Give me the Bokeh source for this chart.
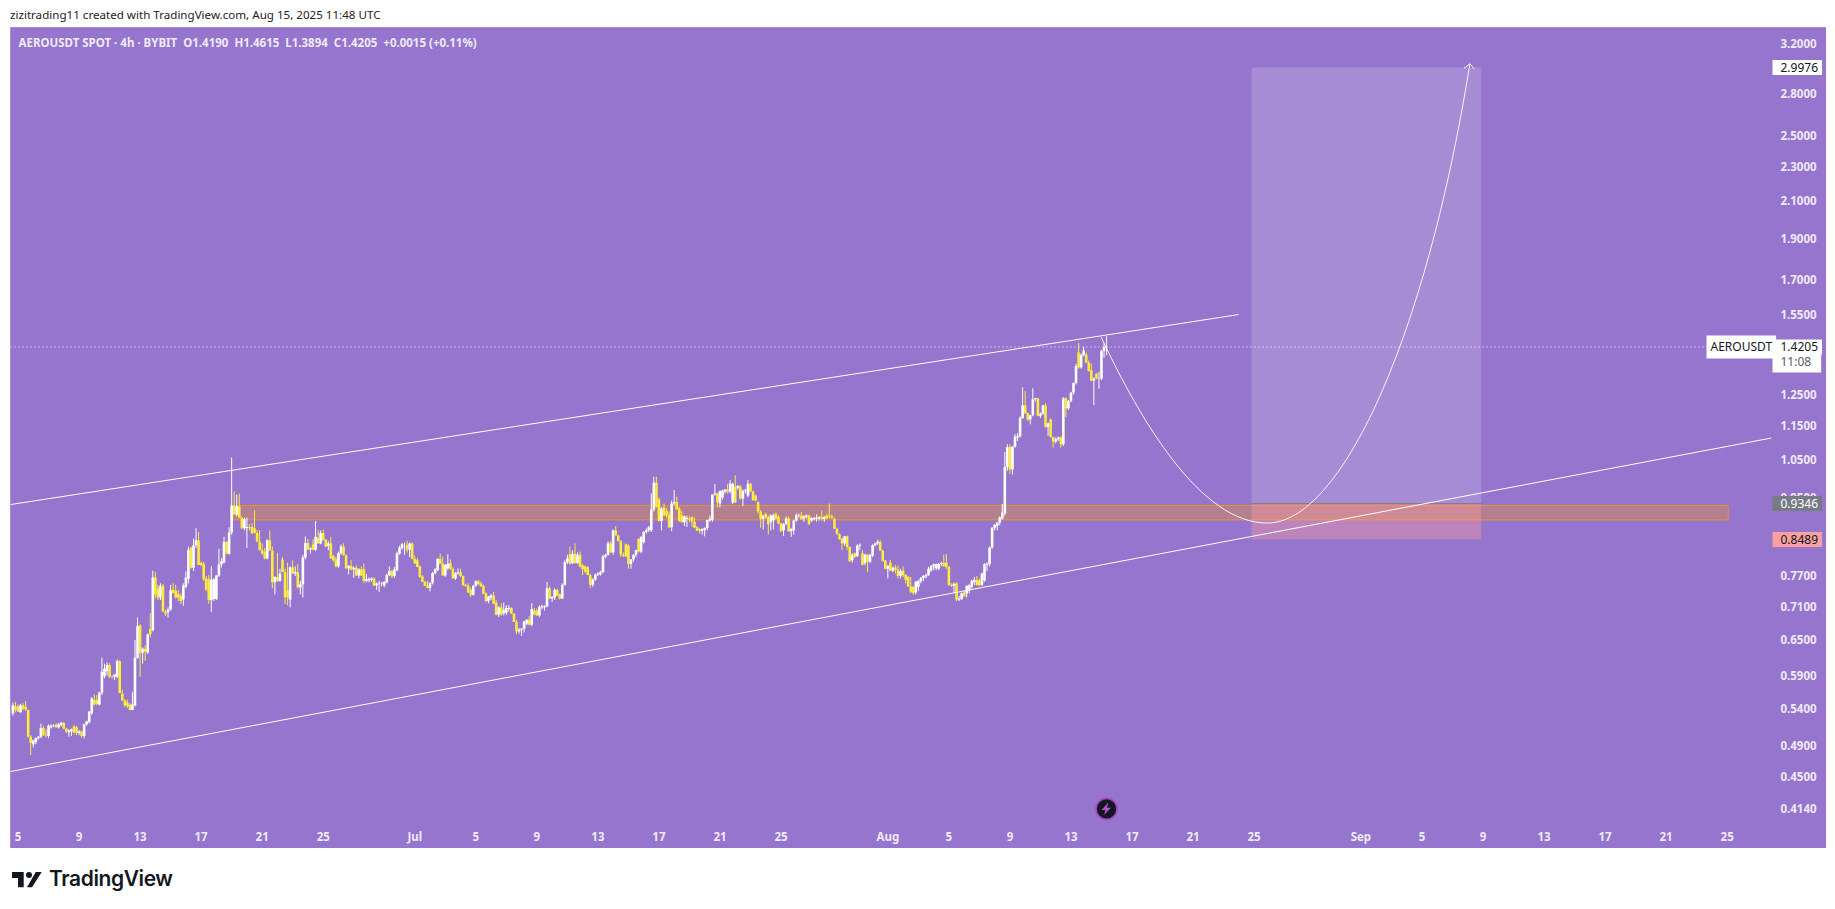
from bokeh.plotting import figure
from bokeh.layouts import column
from bokeh.models import Div, Label, FixedTicker, NumeralTickFormatter
from bokeh.embed import file_html
from bokeh.resources import INLINE

TITLE = "zizitrading11 created with TradingView.com, Aug 15, 2025 11:48 UTC"
LEGEND = "AEROUSDT SPOT · 4h · BYBIT\u00a0\u00a0O1.4190\u00a0\u00a0H1.4615\u00a0\u00a0L1.3894\u00a0\u00a0C1.4205\u00a0\u00a0+0.0015 (+0.11%)"

# 4h candles; last candle is Aug 15 08:00 (day 71.33 after Jun 5)
last_candle_day = 71 + 2 / 6
opens = [
.533,.544,.543,.535,.545,.543,.538,.501,.491,.494,
.499,.501,.513,.504,.502,.514,.516,.517,.514,.517,
.520,.512,.507,.508,.515,.514,.506,.508,.502,.518,
.521,.534,.553,.553,.546,.564,.589,.597,.607,.589,
.588,.588,.613,.562,.552,.549,.546,.538,.545,.619,
.674,.627,.634,.628,.668,.666,.767,.745,.727,.750,
.700,.699,.704,.742,.740,.734,.730,.723,.748,.764,
.830,.787,.836,.847,.798,.795,.765,.763,.722,.724,
.724,.771,.794,.799,.843,.817,.865,.930,.907,.928,
.900,.875,.875,.878,.878,.875,.864,.844,.825,.822,.807,
.847,.824,.757,.768,.760,.805,.778,.741,.723,.788,
.775,.778,.747,.753,.809,.841,.826,.838,.826,.853,
.840,.864,.849,.835,.840,.812,.805,.790,.819,.833,
.814,.786,.791,.784,.787,.771,.784,.784,.760,.761,
.762,.765,.751,.755,.754,.751,.757,.772,.780,.770,
.782,.817,.830,.838,.836,.826,.840,.806,.803,.790,
.769,.758,.751,.746,.756,.776,.782,.806,.796,.771,
.786,.797,.785,.765,.776,.778,.770,.752,.750,.742,
.732,.750,.759,.755,.750,.735,.720,.727,.731,.717,
.694,.708,.697,.698,.705,.707,.696,.681,.664,.667,
.669,.678,.685,.676,.702,.702,.693,.708,.708,.710,
.745,.725,.727,.742,.733,.725,.752,.799,.816,.797,
.817,.797,.815,.792,.790,.788,.772,.752,.763,.773,
.773,.778,.811,.815,.840,.820,.870,.858,.845,.815,
.838,.835,.795,.805,.815,.850,.822,.843,.866,.870,
.870,.920,.988,.945,.892,.925,.916,.907,.877,.935,
.938,.922,.905,.889,.897,.897,.901,.890,.877,.873,.869,
.871,.875,.893,.895,.957,.960,.935,.950,.965,.970,
.965,.937,.978,.975,.978,.947,.967,.955,.985,.965,
.955,.938,.915,.897,.908,.901,.890,.893,.908,.902,
.886,.870,.885,.898,.868,.870,.893,.904,.905,.898,
.902,.905,.893,.896,.897,.898,.901,.897,.905,.905,
.903,.897,.874,.861,.851,.840,.856,.832,.803,.818,
.812,.835,.818,.797,.815,.800,.813,.836,.840,.843,
.824,.802,.785,.798,.781,.788,.783,.770,.781,.772,
.768,.749,.748,.737,.748,.759,.766,.769,.772,.782,
.790,.786,.785,.795,.797,.798,.789,.752,.750,.755,
.723,.724,.737,.735,.741,.748,.758,.762,.761,.752,
.761,.793,.795,.831,.876,.880,.888,.898,.910,1.030,
1.087,1.024,1.088,1.115,1.119,1.175,1.215,1.190,1.170,1.183,
1.235,1.238,1.182,1.188,1.215,1.147,1.170,1.116,1.103,1.110,
1.115,1.095,1.238,1.205,1.230,1.257,1.290,1.400,1.345,1.390,
1.392,1.362,1.335,1.298,1.322,1.305,1.305,1.405,1.4190,
]
highs = [
.549,.550,.546,.547,.548,.551,.539,.503,.497,.500,
.502,.519,.516,.511,.518,.518,.518,.520,.520,.521,
.521,.513,.511,.512,.517,.516,.510,.509,.519,.523,
.536,.557,.561,.560,.565,.619,.609,.611,.610,.590,
.590,.616,.615,.568,.554,.553,.548,.565,.649,.689,
.677,.636,.640,.660,.697,.781,.779,.752,.755,.754,
.703,.708,.752,.755,.752,.742,.735,.755,.780,.833,
.833,.851,.875,.866,.800,.800,.770,.772,.790,.766,
.772,.828,.808,.855,.845,.877,1.057,.965,.957,.960,
.903,.900,.900,.884,.887,.917,.871,.870,.840,.830,.850,
.870,.833,.769,.819,.785,.810,.785,.798,.790,.803,
.790,.795,.760,.815,.856,.850,.832,.849,.892,.871,
.870,.872,.850,.845,.855,.815,.810,.822,.838,.840,
.816,.793,.803,.790,.792,.786,.790,.796,.774,.767,
.767,.767,.757,.760,.758,.760,.775,.790,.783,.789,
.822,.835,.841,.842,.846,.842,.842,.813,.808,.792,
.772,.760,.760,.757,.778,.786,.808,.818,.811,.795,
.816,.805,.788,.778,.786,.785,.771,.754,.755,.746,
.752,.761,.762,.759,.752,.737,.730,.734,.738,.722,
.710,.716,.717,.712,.712,.708,.697,.685,.670,.670,
.683,.686,.692,.716,.707,.706,.712,.713,.712,.758,
.749,.730,.745,.744,.735,.755,.803,.815,.833,.825,
.840,.820,.822,.795,.792,.790,.775,.765,.775,.778,
.781,.815,.817,.845,.845,.872,.880,.860,.848,.820,
.840,.838,.805,.816,.826,.852,.856,.868,.874,.880,
.960,1.004,1.004,.950,.925,.935,.923,.915,.942,.969,
.952,.926,.916,.905,.905,.903,.903,.900,.880,.875,.875,
.877,.895,.905,.957,.985,.962,.968,.970,.972,.985,
.995,.988,1.008,.982,.982,.970,.972,.995,.988,.968,
.957,.940,.918,.906,.912,.905,.908,.910,.913,.906,
.888,.887,.903,.903,.876,.895,.910,.910,.914,.906,
.908,.907,.901,.902,.908,.904,.917,.904,.910,.935,
.908,.900,.876,.863,.853,.857,.858,.834,.818,.820,
.838,.840,.825,.817,.817,.817,.838,.842,.848,.848,
.826,.804,.793,.804,.790,.793,.792,.785,.790,.774,
.770,.768,.750,.760,.762,.768,.772,.775,.789,.793,
.796,.796,.797,.800,.815,.817,.791,.755,.757,.757,
.730,.737,.740,.751,.753,.763,.768,.770,.765,.777,
.797,.799,.833,.877,.885,.890,.903,.934,1.073,1.095,
1.095,1.090,1.126,1.128,1.180,1.275,1.262,1.192,1.185,1.272,
1.240,1.240,1.192,1.217,1.222,1.160,1.173,1.118,1.115,1.118,
1.118,1.242,1.242,1.232,1.260,1.292,1.358,1.436,1.397,1.420,
1.400,1.370,1.360,1.310,1.325,1.330,1.410,1.435,1.4615,
]
lows = [
.530,.535,.535,.534,.538,.537,.500,.477,.487,.491,
.497,.499,.502,.500,.499,.512,.514,.513,.512,.515,
.511,.506,.501,.502,.505,.503,.503,.500,.499,.516,
.519,.531,.545,.545,.545,.560,.586,.590,.586,.585,
.583,.586,.563,.551,.542,.541,.538,.538,.543,.617,
.588,.609,.614,.625,.653,.664,.725,.722,.722,.700,
.692,.689,.702,.735,.725,.720,.714,.711,.745,.755,
.785,.780,.830,.793,.790,.760,.740,.715,.699,.720,
.722,.768,.788,.796,.817,.815,.860,.907,.903,.900,
.873,.870,.830,.870,.862,.863,.843,.825,.815,.805,.805,
.824,.745,.733,.758,.758,.778,.714,.712,.708,.774,
.770,.745,.733,.727,.805,.826,.817,.825,.823,.840,
.838,.847,.832,.825,.807,.800,.788,.787,.815,.813,
.785,.773,.782,.766,.770,.765,.770,.755,.757,.757,
.758,.750,.742,.738,.749,.747,.755,.770,.766,.766,
.780,.815,.826,.815,.820,.810,.805,.795,.788,.766,
.757,.750,.745,.739,.753,.773,.780,.795,.771,.768,
.782,.783,.765,.762,.773,.768,.750,.748,.736,.728,
.731,.748,.752,.748,.733,.718,.716,.722,.715,.693,
.690,.692,.693,.694,.700,.696,.681,.659,.660,.656,
.662,.675,.675,.673,.693,.692,.690,.704,.702,.708,
.724,.718,.722,.730,.723,.724,.750,.795,.794,.795,
.796,.795,.788,.772,.776,.772,.745,.748,.760,.770,
.771,.776,.808,.813,.820,.815,.858,.845,.810,.810,
.810,.785,.785,.800,.810,.820,.818,.840,.862,.866,
.866,.915,.925,.890,.870,.905,.900,.875,.868,.930,
.920,.890,.888,.880,.878,.890,.878,.875,.868,.862,.860,
.856,.870,.890,.890,.955,.925,.925,.945,.960,.960,
.960,.933,.936,.970,.945,.928,.960,.950,.963,.942,
.940,.910,.876,.872,.898,.860,.870,.872,.895,.885,
.866,.857,.883,.866,.855,.860,.890,.900,.895,.890,
.898,.884,.890,.893,.890,.893,.893,.890,.897,.898,
.898,.873,.860,.848,.825,.835,.825,.800,.798,.808,
.810,.825,.792,.793,.778,.797,.810,.833,.837,.823,
.801,.784,.765,.780,.778,.775,.765,.765,.768,.755,
.748,.735,.732,.733,.740,.755,.760,.765,.770,.778,
.782,.782,.782,.790,.790,.785,.750,.748,.736,.720,
.720,.722,.729,.727,.735,.745,.752,.750,.750,.750,
.758,.780,.790,.828,.870,.870,.882,.895,.905,1.020,
1.012,1.010,1.085,1.105,1.115,1.172,1.187,1.165,1.155,1.180,
1.228,1.180,1.175,1.185,1.145,1.120,1.115,1.085,1.098,1.105,
1.085,1.090,1.177,1.200,1.225,1.250,1.285,1.340,1.340,1.385,
1.360,1.330,1.297,1.216,1.303,1.270,1.300,1.380,1.3894,
]
closes = [
.545,.539,.536,.545,.540,.539,.501,.493,.496,.499,
.501,.513,.503,.503,.516,.516,.517,.514,.518,.520,
.512,.508,.510,.511,.507,.506,.508,.502,.518,.522,
.536,.555,.546,.547,.564,.596,.601,.607,.588,.588,
.592,.613,.563,.552,.545,.544,.538,.546,.619,.674,
.627,.634,.629,.659,.659,.767,.733,.727,.750,.700,
.696,.704,.741,.736,.727,.727,.720,.750,.767,.826,
.787,.836,.847,.793,.793,.763,.742,.722,.763,.763,
.771,.794,.801,.843,.817,.865,.930,.908,.928,.900,
.875,.897,.878,.876,.863,.864,.844,.825,.818,.807,.847,
.824,.757,.768,.760,.775,.778,.727,.727,.788,.775,
.778,.747,.753,.809,.841,.826,.829,.826,.855,.840,
.864,.847,.833,.840,.807,.803,.790,.819,.833,.814,
.786,.791,.783,.787,.771,.784,.771,.760,.764,.764,
.765,.750,.755,.756,.755,.758,.772,.780,.769,.784,
.818,.831,.838,.838,.826,.840,.806,.796,.789,.768,
.758,.750,.746,.756,.776,.784,.806,.796,.771,.793,
.796,.785,.765,.776,.778,.770,.751,.750,.737,.732,
.750,.759,.753,.749,.734,.720,.729,.731,.715,.694,
.708,.695,.703,.707,.707,.696,.681,.664,.667,.669,
.682,.685,.676,.705,.695,.693,.709,.710,.710,.745,
.725,.728,.742,.730,.725,.752,.799,.807,.796,.817,
.797,.815,.789,.784,.779,.772,.752,.763,.773,.775,
.778,.811,.815,.840,.820,.870,.858,.845,.815,.813,
.811,.795,.805,.815,.825,.822,.855,.866,.870,.877,
.920,.988,.926,.892,.922,.905,.905,.877,.935,.938,
.920,.892,.889,.903,.899,.895,.890,.876,.869,.869,.873,
.875,.894,.897,.957,.960,.937,.966,.968,.970,.965,
.986,.985,.937,.979,.947,.967,.969,.985,.965,.943,
.942,.915,.897,.905,.900,.884,.905,.906,.898,.886,
.868,.885,.898,.868,.873,.893,.906,.905,.896,.904,
.905,.884,.899,.899,.900,.901,.897,.902,.898,.903,
.899,.874,.861,.850,.840,.856,.832,.801,.815,.810,
.835,.837,.793,.815,.800,.815,.836,.840,.844,.824,
.801,.785,.791,.781,.787,.783,.770,.780,.772,.762,
.749,.738,.736,.758,.760,.766,.770,.772,.785,.790,
.794,.795,.795,.797,.790,.789,.752,.750,.754,.723,
.725,.735,.729,.750,.751,.760,.762,.752,.751,.775,
.795,.795,.831,.876,.883,.888,.900,.912,1.030,1.087,
1.024,1.088,1.117,1.119,1.175,1.215,1.190,1.170,1.183,1.235,
1.238,1.182,1.188,1.215,1.147,1.158,1.116,1.103,1.110,1.115,
1.095,1.238,1.205,1.230,1.257,1.290,1.350,1.345,1.390,1.407,
1.362,1.332,1.298,1.305,1.305,1.306,1.405,1.420,1.4205,
]
assert len(opens) == len(highs) == len(lows) == len(closes), (len(opens), len(highs), len(lows), len(closes))

current_price = 1.4205
target_price = 2.9976
entry_price = 0.9346
stop_price = 0.8489

# days since Jun 5 -> date labels
date_ticks = [0, 4, 8, 12, 16, 20, 26, 30, 34, 38, 42, 46, 50, 57, 61, 65, 69, 73, 77, 81, 88, 92, 96, 100, 104, 108, 112]
date_labels = ["5", "9", "13", "17", "21", "25", "Jul", "5", "9", "13", "17", "21", "25", "Aug", "5", "9", "13", "17", "21", "25", "Sep", "5", "9", "13", "17", "21", "25"]
price_ticks = [3.2, 2.8, 2.5, 2.3, 2.1, 1.9, 1.7, 1.55, 1.25, 1.15, 1.05, 0.95, 0.77, 0.71, 0.65, 0.59, 0.54, 0.49, 0.45, 0.414]

# drawings (day, price)
axis_day = 114.97
axis_price = 0.3983
upper_days = [-0.49, 79.98]
upper_prices = [0.932, 1.549]
lower_days = [-0.49, 114.9]
lower_prices = [0.4565, 1.1135]
zone_days = [14.14, 112.07]
zone_prices = [0.8947, 0.930]
position_days = [80.84, 95.88]
# projected path: two bezier pieces (start, control, control, end)
curve_start_days = [70.98, 81.86]
curve_start_prices = [1.458, 0.887]
curve_c0_days = [73.56, 86.66]
curve_c0_prices = [1.167, 0.887]
curve_c1_days = [77.49, 92.23]
curve_c1_prices = [0.887, 1.445]
curve_end_days = [81.86, 95.14]
curve_end_prices = [0.887, 3.028]
arrow_days = [94.75, 95.14, 95.44]
arrow_prices = [2.991, 3.028, 2.985]
icon_day = 71.33
icon_price = 0.4131
bolt_days = [71.46, 71.00, 71.26, 71.17, 71.62, 71.36]
bolt_prices = [0.4201, 0.4118, 0.4118, 0.4063, 0.4145, 0.4145]

PURPLE = "#9575cd"
TICK = "#efeaf8"
FONT = "Noto Sans"

p = figure(width=1816, height=821, y_axis_type="log", y_axis_location="right",
           x_range=(-0.4915, 118.51), y_range=(0.3716, 3.337),
           output_backend="svg", toolbar_location=None,
           min_border=0,
           background_fill_color=PURPLE, border_fill_color=PURPLE,
           margin=(0, 0, 0, 10))
p.outline_line_color = None
p.grid.visible = False
p.styles = {"outline": "1px solid #bcaae2", "outline-offset": "-1px"}

for ax in (p.xaxis[0], p.yaxis[0]):
    ax.axis_line_color = None
    ax.major_tick_line_color = None
    ax.minor_tick_line_color = None
    ax.major_tick_out = 0
    ax.major_tick_in = 0
    ax.minor_tick_out = 0
    ax.minor_tick_in = 0
    ax.major_label_text_color = TICK
    ax.major_label_text_font = FONT
    ax.major_label_text_font_size = "11.5px"
    ax.major_label_text_font_style = "bold"
p.xaxis[0].ticker = FixedTicker(ticks=date_ticks)
p.xaxis[0].major_label_overrides = dict(zip(date_ticks, date_labels))
p.xaxis[0].major_label_standoff = 6
p.xaxis[0].fixed_location = axis_price
p.yaxis[0].ticker = FixedTicker(ticks=price_ticks)
p.yaxis[0].formatter = NumeralTickFormatter(format="0.0000")
p.yaxis[0].major_label_standoff = 8
p.yaxis[0].fixed_location = axis_day

# support zone
p.quad(left=zone_days[0], right=zone_days[1], bottom=zone_prices[0], top=zone_prices[1],
       fill_color="#ff9800", fill_alpha=0.29, line_color="#ff9800", line_alpha=0.8, line_width=1)

# long-position tool
p.quad(left=position_days[0], right=position_days[1], bottom=entry_price, top=target_price,
       fill_color="#ffffff", fill_alpha=0.165, line_color=None)
p.quad(left=position_days[0], right=position_days[1], bottom=stop_price, top=entry_price,
       fill_color="#ff9d9c", fill_alpha=0.37, line_color=None)
p.line(position_days, [entry_price, entry_price], line_color="#787b86", line_width=1, line_alpha=0.8)

# candles
n = len(opens)
days = [last_candle_day - (n - 1 - i) / 6 for i in range(n)]
colors = ["#ffffff" if c >= o else "#ffeb3b" for o, c in zip(opens, closes)]
p.segment(days, highs, days, lows, line_color=colors, line_width=1)
p.vbar(x=days, width=0.17, bottom=[min(a, b) for a, b in zip(opens, closes)],
       top=[max(a, b) for a, b in zip(opens, closes)], fill_color=colors, line_color=None)

# last price line
p.line([-0.4915, axis_day], [current_price, current_price], line_color="#ffffff", line_width=1, line_dash="1 3")

# channel and projected path
p.line(upper_days, upper_prices, line_color="#ffffff", line_width=1)
p.line(lower_days, lower_prices, line_color="#ffffff", line_width=1)
p.bezier(x0=curve_start_days, y0=curve_start_prices, x1=curve_end_days, y1=curve_end_prices,
         cx0=curve_c0_days, cy0=curve_c0_prices, cx1=curve_c1_days, cy1=curve_c1_prices,
         line_color="#ffffff", line_width=1, line_alpha=0.9)
p.line(arrow_days, arrow_prices, line_color="#ffffff", line_width=1)

# news icon
p.scatter([icon_day], [icon_price], size=21, marker="circle", fill_color="#131722", line_color="#ab47bc", line_width=1.6)
p.patch(bolt_days, bolt_prices, fill_color="#ba4fd0", line_color=None)

def tag(x, y, text, bg, fg, padding=(8, 4, 3, 3)):
    # padding is (left, right, top, bottom)
    p.add_layout(Label(x=x, x_units="screen", y=y, y_units="data", text=text, text_align="left",
                       text_baseline="middle", text_color=fg, text_font=FONT, text_font_size="12px",
                       background_fill_color=bg, padding=padding))

p.add_layout(Label(x=8, x_units="screen", y=3.209, y_units="data", text=LEGEND, text_color=TICK,
                   text_font=FONT, text_font_size="11.5px", text_font_style="bold", text_baseline="middle"))
tag(1762, target_price, "2.9976", "#ffffff", "#131722")
tag(1762, 1.368, "11:08", "#ffffff", "#555a66", padding=(8, 10, 3, 3))
tag(1762, current_price, "1.4205", "#ffffff", "#131722")
tag(1696, current_price, "AEROUSDT", "#ffffff", "#131722", padding=(4, 4, 3, 3))
tag(1762, entry_price, "0.9346", "#787b86", "#ffffff")
tag(1762, stop_price, "0.8489", "#f9a0a0", "#131722")

head = Div(text=f'<div style="font:11.6px \'Noto Sans\';color:#222;line-height:14px;white-space:nowrap">{TITLE}</div>',
           width=800, height=20, margin=(7, 0, 0, 10))
logo = ('<div style="position:relative;height:44px;width:300px">'
        '<svg style="position:absolute;left:2px;top:24px" width="32" height="17" viewBox="0 0 32 17">'
        '<path fill="#131722" d="M0 0H11.7V15.3H6V6H0Z"/><circle fill="#131722" cx="17" cy="3.1" r="3"/>'
        '<path fill="#131722" d="M23.7 0H29.7L20 15.3H15Z"/></svg>'
        '<span style="position:absolute;left:39px;top:18px;font:600 21px Inter;color:#131722;letter-spacing:-0.4px">TradingView</span></div>')
foot = Div(text=logo, width=400, height=48, margin=(0, 0, 0, 10))

page = column(head, p, foot, spacing=0)
open("out.html", "w").write(file_html(page, INLINE))
